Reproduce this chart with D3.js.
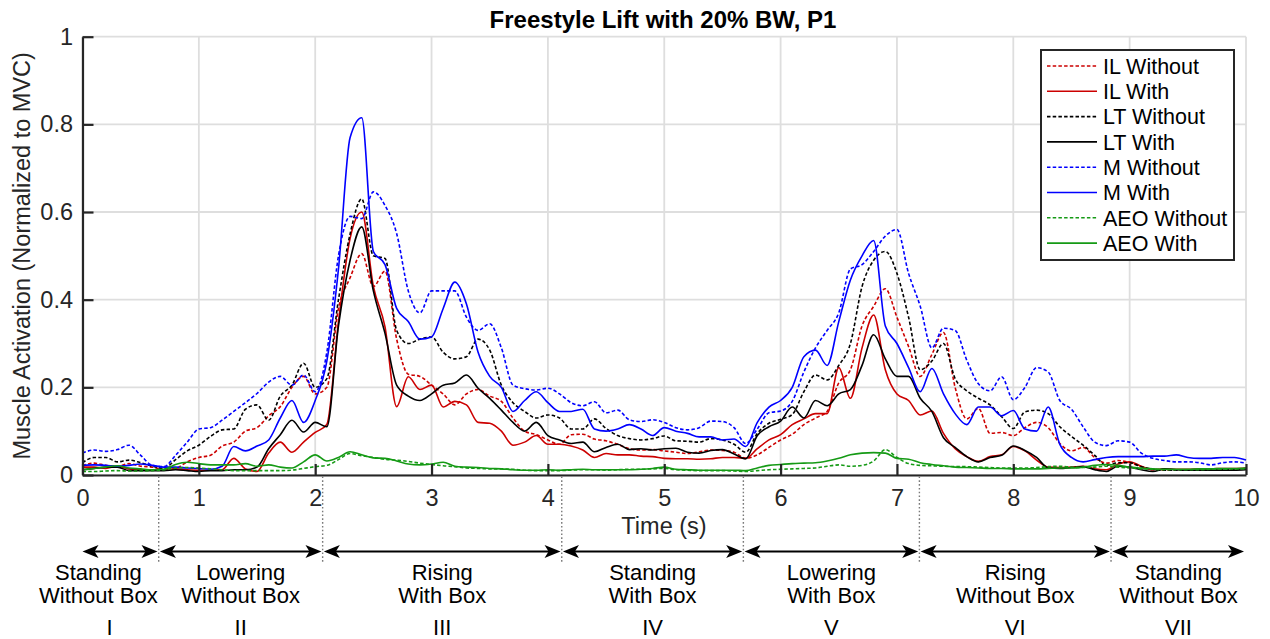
<!DOCTYPE html>
<html><head><meta charset="utf-8">
<script src="https://cdn.jsdelivr.net/npm/d3@7"></script>
<style>
body{margin:0;background:#fff;}
svg{display:block;font-family:"Liberation Sans",Arial,Helvetica,sans-serif;}
</style></head><body>
<svg id="chart" width="1270" height="639"></svg>
<script>
// sample times: 0.0 .. 10.0 s every 0.1 s
const timeSeconds = d3.range(101).map(i => i / 10);

const ilWithout = [0.022,0.027,0.022,0.020,0.026,0.020,0.018,0.012,0.015,0.030,
0.040,0.045,0.066,0.075,0.100,0.108,0.135,0.156,0.200,0.225,
0.185,0.200,0.380,0.450,0.505,0.430,0.465,0.310,0.230,0.225,
0.205,0.185,0.160,0.185,0.195,0.180,0.168,0.130,0.100,0.092,
0.080,0.070,0.092,0.093,0.082,0.078,0.070,0.060,0.057,0.058,
0.055,0.052,0.049,0.053,0.057,0.056,0.052,0.038,0.046,0.063,
0.080,0.093,0.115,0.130,0.145,0.210,0.240,0.340,0.385,0.425,
0.360,0.293,0.225,0.275,0.325,0.200,0.128,0.152,0.095,0.097,
0.090,0.108,0.120,0.108,0.072,0.055,0.063,0.040,0.027,0.033,
0.028,0.019,0.012,0.011,0.012,0.012,0.012,0.013,0.013,0.014,0.014];

const ilWith = [0.018,0.018,0.015,0.020,0.014,0.012,0.012,0.012,0.014,0.012,
0.011,0.011,0.012,0.038,0.014,0.008,0.050,0.075,0.052,0.075,
0.097,0.115,0.350,0.540,0.600,0.430,0.338,0.156,0.224,0.195,
0.205,0.155,0.168,0.160,0.120,0.118,0.100,0.068,0.075,0.090,
0.070,0.070,0.066,0.057,0.040,0.049,0.046,0.046,0.043,0.042,
0.038,0.037,0.037,0.036,0.037,0.040,0.040,0.038,0.060,0.080,
0.092,0.115,0.128,0.140,0.140,0.245,0.175,0.290,0.365,0.240,
0.185,0.170,0.137,0.146,0.095,0.060,0.042,0.031,0.042,0.046,
0.065,0.055,0.034,0.018,0.017,0.018,0.020,0.014,0.012,0.025,
0.030,0.020,0.012,0.014,0.013,0.013,0.014,0.014,0.015,0.015,0.016];

const ltWithout = [0.028,0.040,0.040,0.030,0.034,0.028,0.020,0.015,0.035,0.055,
0.068,0.088,0.103,0.105,0.150,0.160,0.125,0.180,0.205,0.255,
0.200,0.220,0.400,0.550,0.630,0.500,0.494,0.330,0.300,0.310,
0.315,0.280,0.265,0.270,0.310,0.285,0.205,0.165,0.145,0.130,
0.137,0.130,0.105,0.105,0.128,0.106,0.090,0.083,0.080,0.083,
0.089,0.078,0.077,0.075,0.083,0.080,0.070,0.052,0.095,0.118,
0.127,0.138,0.190,0.228,0.217,0.250,0.300,0.430,0.490,0.510,
0.460,0.360,0.240,0.260,0.300,0.220,0.192,0.175,0.160,0.133,
0.106,0.144,0.148,0.140,0.110,0.088,0.068,0.045,0.022,0.028,
0.028,0.019,0.013,0.011,0.011,0.011,0.011,0.011,0.012,0.013,0.015];

const ltWith = [0.012,0.015,0.018,0.018,0.010,0.010,0.010,0.010,0.012,0.010,
0.008,0.010,0.010,0.012,0.012,0.018,0.060,0.092,0.125,0.098,
0.120,0.110,0.340,0.490,0.566,0.420,0.323,0.205,0.180,0.170,
0.185,0.205,0.210,0.228,0.198,0.175,0.148,0.120,0.100,0.120,
0.090,0.080,0.072,0.075,0.053,0.063,0.070,0.058,0.060,0.057,
0.060,0.061,0.052,0.050,0.056,0.058,0.048,0.037,0.090,0.110,
0.123,0.155,0.130,0.170,0.158,0.185,0.195,0.250,0.320,0.265,
0.225,0.225,0.175,0.145,0.085,0.063,0.042,0.030,0.040,0.045,
0.066,0.056,0.040,0.016,0.015,0.017,0.019,0.012,0.008,0.020,
0.018,0.012,0.008,0.014,0.012,0.011,0.011,0.011,0.011,0.011,0.012];

const mWithout = [0.050,0.057,0.054,0.058,0.068,0.045,0.022,0.019,0.045,0.075,
0.105,0.108,0.125,0.145,0.165,0.186,0.212,0.225,0.205,0.228,
0.190,0.280,0.500,0.590,0.585,0.646,0.615,0.551,0.420,0.370,
0.420,0.420,0.420,0.360,0.330,0.345,0.290,0.205,0.197,0.194,
0.198,0.185,0.165,0.158,0.167,0.142,0.148,0.126,0.122,0.126,
0.120,0.108,0.103,0.108,0.123,0.122,0.108,0.072,0.105,0.142,
0.146,0.168,0.235,0.290,0.330,0.370,0.470,0.480,0.510,0.545,
0.560,0.460,0.385,0.290,0.335,0.330,0.262,0.208,0.192,0.224,
0.172,0.200,0.245,0.235,0.170,0.150,0.110,0.075,0.067,0.078,
0.075,0.050,0.038,0.033,0.030,0.030,0.028,0.023,0.028,0.030,0.027];

const mWith = [0.022,0.023,0.022,0.020,0.022,0.025,0.022,0.018,0.018,0.016,
0.015,0.013,0.020,0.065,0.055,0.066,0.080,0.130,0.170,0.120,
0.170,0.260,0.470,0.770,0.815,0.510,0.480,0.380,0.350,0.310,
0.315,0.380,0.440,0.390,0.280,0.225,0.200,0.145,0.170,0.190,
0.165,0.145,0.145,0.150,0.105,0.100,0.105,0.115,0.105,0.090,
0.108,0.100,0.095,0.087,0.087,0.080,0.082,0.065,0.120,0.155,
0.170,0.200,0.270,0.285,0.250,0.350,0.445,0.500,0.535,0.340,
0.300,0.245,0.190,0.243,0.185,0.140,0.115,0.155,0.155,0.135,
0.147,0.105,0.100,0.155,0.070,0.040,0.030,0.035,0.040,0.042,
0.042,0.042,0.043,0.043,0.046,0.040,0.038,0.038,0.040,0.040,0.034];

const aeoWithout = [0.008,0.008,0.009,0.010,0.009,0.009,0.010,0.012,0.016,0.017,
0.016,0.014,0.012,0.010,0.010,0.010,0.010,0.010,0.011,0.015,
0.019,0.022,0.035,0.049,0.044,0.040,0.036,0.034,0.031,0.027,
0.024,0.021,0.019,0.016,0.015,0.014,0.014,0.013,0.011,0.010,
0.010,0.010,0.011,0.012,0.012,0.011,0.012,0.013,0.013,0.014,
0.015,0.012,0.011,0.010,0.010,0.010,0.009,0.008,0.010,0.012,
0.013,0.014,0.015,0.016,0.020,0.023,0.020,0.022,0.032,0.058,
0.040,0.026,0.022,0.021,0.020,0.019,0.019,0.018,0.017,0.016,
0.016,0.016,0.017,0.019,0.020,0.018,0.017,0.018,0.020,0.018,
0.016,0.014,0.013,0.012,0.012,0.012,0.012,0.013,0.013,0.014,0.014];

const aeoWith = [0.012,0.015,0.018,0.021,0.016,0.014,0.012,0.013,0.024,0.029,
0.026,0.023,0.023,0.023,0.026,0.020,0.023,0.018,0.016,0.030,
0.046,0.032,0.040,0.053,0.046,0.039,0.038,0.032,0.025,0.023,
0.025,0.029,0.020,0.018,0.017,0.015,0.014,0.012,0.011,0.011,
0.012,0.011,0.012,0.013,0.012,0.012,0.012,0.012,0.013,0.015,
0.018,0.013,0.012,0.011,0.011,0.011,0.011,0.010,0.016,0.022,
0.024,0.026,0.027,0.028,0.032,0.038,0.046,0.050,0.051,0.050,
0.038,0.036,0.028,0.024,0.021,0.018,0.017,0.016,0.015,0.015,
0.014,0.014,0.014,0.015,0.016,0.016,0.018,0.022,0.024,0.022,
0.018,0.016,0.014,0.013,0.013,0.013,0.014,0.014,0.015,0.015,0.016];

const seriesNames  = ["IL Without","IL With","LT Without","LT With","M Without","M With","AEO Without","AEO With"];
const seriesValues = [ilWithout, ilWith, ltWithout, ltWith, mWithout, mWith, aeoWithout, aeoWith];
const seriesColors = ["#cc0000","#cc0000","#000000","#000000","#0000ff","#0000ff","#159a15","#159a15"];
const seriesDashed = [true,false,true,false,true,false,true,false];

const xTicks = [0,1,2,3,4,5,6,7,8,9,10];
const yTicks = [0,0.2,0.4,0.6,0.8,1];
const yTickLabels = ["0","0.2","0.4","0.6","0.8","1"];

const phaseBounds = [0,0.655,2.064,4.119,5.68,7.193,8.84,10];
const phaseLine1 = ["Standing","Lowering","Rising","Standing","Lowering","Rising","Standing"];
const phaseLine2 = ["Without Box","Without Box","With Box","With Box","With Box","Without Box","Without Box"];
const phaseRoman = ["I","II","III","IV","V","VI","VII"];

const titleText = "Freestyle Lift with 20% BW, P1";
const xLabel = "Time (s)";
const yLabel = "Muscle Activation (Normalized to MVC)";

// ---------- layout ----------
const svg = d3.select("#chart");
const axisColor = "#262626";
const x = d3.scaleLinear().domain([0,10]).range([82.5,1246]);
const y = d3.scaleLinear().domain([0,1]).range([475,36.7]);

// grid
const grid = svg.append("g");
grid.selectAll("line.gx").data(xTicks).join("line")
  .attr("x1", d => x(d)).attr("x2", d => x(d))
  .attr("y1", y(0)).attr("y2", y(1))
  .attr("stroke", "#dedede").attr("stroke-width", 1.8);
grid.selectAll("line.gy").data(yTicks).join("line")
  .attr("y1", d => y(d)).attr("y2", d => y(d))
  .attr("x1", x(0)).attr("x2", x(10))
  .attr("stroke", "#dedede").attr("stroke-width", 1.8);

// series
const line = d3.line().curve(d3.curveMonotoneX);
const gLines = svg.append("g");
seriesValues.forEach((vals, i) => {
  gLines.append("path")
    .attr("d", line(vals.map((v, k) => [x(timeSeconds[k]), y(v)])))
    .attr("fill", "none")
    .attr("stroke", seriesColors[i])
    .attr("stroke-width", 1.6)
    .attr("stroke-linejoin", "round")
    .attr("stroke-dasharray", seriesDashed[i] ? "3.5,2.2" : null);
});

// axes
const xAxis = d3.axisBottom(x).tickValues(xTicks).tickFormat(d3.format("d"))
  .tickSizeInner(-11).tickSizeOuter(0).tickPadding(14);
const yAxis = d3.axisLeft(y).tickValues(yTicks).tickFormat((d, i) => yTickLabels[i])
  .tickSizeInner(-11).tickSizeOuter(0).tickPadding(9.5);
const gx = svg.append("g").attr("transform", `translate(0,${y(0)})`).call(xAxis);
const gy = svg.append("g").attr("transform", `translate(${x(0)},0)`).call(yAxis);
[gx, gy].forEach(g => {
  g.select(".domain").attr("stroke", axisColor).attr("stroke-width", 2.2);
  g.selectAll(".tick line").attr("stroke", axisColor).attr("stroke-width", 2.2);
  g.selectAll(".tick text").attr("fill", axisColor).style("font-size", "23.5px")
    .style("font-family", '"Liberation Sans",Arial,sans-serif');
});

// title and labels
svg.append("text").attr("x", 663).attr("y", 28).attr("text-anchor", "middle")
  .style("font-size", "24px").style("font-weight", "bold").attr("fill", "#000").text(titleText);
svg.append("text").attr("x", 664).attr("y", 534).attr("text-anchor", "middle")
  .style("font-size", "23.5px").attr("fill", axisColor).text(xLabel);
svg.append("text").attr("transform", `translate(30,${(y(0)+y(1))/2}) rotate(-90)`)
  .attr("text-anchor", "middle").style("font-size", "23.5px").attr("fill", axisColor).text(yLabel);

// phase boundaries
const gPh = svg.append("g");
gPh.selectAll("line.b").data(phaseBounds.slice(1, -1)).join("line")
  .attr("x1", d => x(d)).attr("x2", d => x(d))
  .attr("y1", y(0) + 1.5).attr("y2", 564)
  .attr("stroke", "#7a7a7a").attr("stroke-width", 1.4).attr("stroke-dasharray", "1.6,2.2");

const arrowY = 551.5, headL = 16, headW = 6.5, notch = 4;
function head(tx, dir) {
  return `M${tx},${arrowY} L${tx - dir*headL},${arrowY - headW} L${tx - dir*(headL - notch)},${arrowY} L${tx - dir*headL},${arrowY + headW} Z`;
}
for (let i = 0; i < phaseLine1.length; i++) {
  const left = x(phaseBounds[i]), right = x(phaseBounds[i + 1]);
  const a = left + (i === 0 ? 0 : 1.2);
  const b = right - (i === phaseLine1.length - 1 ? 2 : 1.2);
  gPh.append("line").attr("x1", a + 4).attr("x2", b - 4).attr("y1", arrowY).attr("y2", arrowY)
    .attr("stroke", "#000").attr("stroke-width", 2.2);
  gPh.append("path").attr("d", head(a, -1)).attr("fill", "#000");
  gPh.append("path").attr("d", head(b, 1)).attr("fill", "#000");
  const mid = (left + right) / 2;
  const g = gPh.append("g");
  const t1 = g.append("text").attr("y", 580).text(phaseLine1[i]);
  const t2 = g.append("text").attr("y", 602.5).text(phaseLine2[i]);
  const t3 = g.append("text").attr("y", 634.5).text(phaseRoman[i]);
  g.selectAll("text").attr("text-anchor", "middle").style("font-size", "22px").attr("fill", "#000");
  // keep the two-line label inside its phase span (shift it leftwards if it would spill over)
  const half = Math.max(t1.node().getComputedTextLength(), t2.node().getComputedTextLength()) / 2;
  const cx = Math.min(mid, right - half - 1);
  t1.attr("x", cx); t2.attr("x", cx);
  t3.attr("x", (cx + mid) / 2);
}

// legend
const lg = svg.append("g");
lg.append("rect").attr("x", 1041).attr("y", 50).attr("width", 193).attr("height", 210)
  .attr("fill", "#fff").attr("stroke", axisColor).attr("stroke-width", 2);
seriesNames.forEach((name, i) => {
  const cy = 66 + i * 25.3;
  lg.append("line").attr("x1", 1047).attr("x2", 1097).attr("y1", cy).attr("y2", cy)
    .attr("stroke", seriesColors[i]).attr("stroke-width", 1.6)
    .attr("stroke-dasharray", seriesDashed[i] ? "3.5,2.2" : null);
  lg.append("text").attr("x", 1103).attr("y", cy).attr("dy", "0.36em")
    .style("font-size", "21.5px").attr("fill", "#000").text(name);
});
</script>
</body></html>
